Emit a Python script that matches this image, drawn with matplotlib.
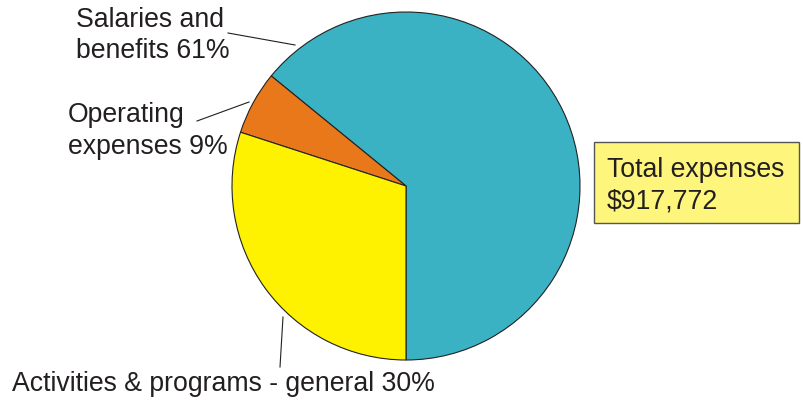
import matplotlib.pyplot as plt
from matplotlib.patches import Rectangle

plt.rcParams['font.family'] = ['Liberation Sans', 'DejaVu Sans']

# slice shares as drawn (starting at the bottom, going counterclockwise)
categories = ['Salaries and benefits', 'Operating expenses', 'Activities & programs - general']
shares = [64.1, 5.9, 30.0]
colors = ['#3AB2C4', '#E8781A', '#FFF200']
total_text = ['Total expenses', '$917,772']

W, H = 804, 401
fig = plt.figure(figsize=(W / 100, H / 100), dpi=100)
ax = fig.add_axes([0, 0, 1, 1])


def py(y):
    # pixel row (top down) -> data y
    return H - y


ax.pie(shares, colors=colors, startangle=-90, counterclock=True,
       center=(406, py(186)), radius=174, frame=True,
       wedgeprops=dict(edgecolor='#222222', linewidth=0.8))
ax.set_xlim(0, W)
ax.set_ylim(0, H)
ax.set_aspect('equal')
ax.axis('off')

fs = 19.2
tc = '#231F20'

# salaries label
ax.text(76, py(27), 'Salaries and', fontsize=fs, color=tc, va='baseline')
ax.text(76, py(58), 'benefits 61%', fontsize=fs, color=tc, va='baseline')
ax.plot([228, 295], [py(33), py(45)], color=tc, lw=0.8)

# operating label
ax.text(68, py(122), 'Operating', fontsize=fs, color=tc, va='baseline')
ax.text(68, py(154), 'expenses 9%', fontsize=fs, color=tc, va='baseline')
ax.plot([197, 249], [py(121), py(102)], color=tc, lw=0.8)

# activities label
ax.text(12, py(391), 'Activities & programs - general 30%', fontsize=fs, color=tc, va='baseline')
ax.plot([280, 283], [py(367), py(317)], color=tc, lw=0.8)

# total box
ax.add_patch(Rectangle((594, py(223)), 205, 81, facecolor='#FEF57C',
                       edgecolor='#555555', lw=1.0, clip_on=False))
ax.text(607, py(177), total_text[0], fontsize=fs, color=tc, va='baseline')
ax.text(607, py(208), total_text[1], fontsize=fs, color=tc, va='baseline')

fig.savefig('out.png', dpi=100)
